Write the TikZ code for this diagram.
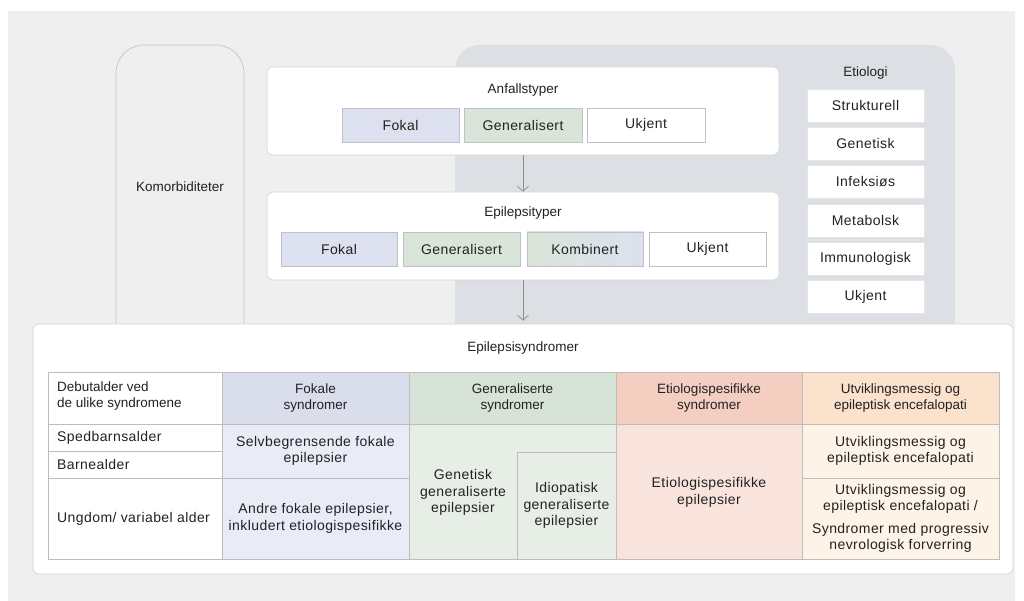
\documentclass[tikz,border=0pt]{standalone}
\usepackage{fontspec}
\setmainfont{Liberation Sans}
\newfontfamily\spfont[LetterSpace=3]{Liberation Sans}
\usetikzlibrary{fit,arrows.meta}
\definecolor{bg}{HTML}{EFEFEF}
\definecolor{etio}{HTML}{DCDFE3}
\definecolor{komline}{HTML}{C4C4C4}
\definecolor{panelline}{HTML}{D4D4D4}
\definecolor{boxline}{HTML}{BFC1C7}
\definecolor{gridline}{HTML}{BDBDBD}
\definecolor{ink}{HTML}{222222}
\definecolor{arrowc}{HTML}{8C8C8C}
\definecolor{fokal}{HTML}{DCE0EF}
\definecolor{gen}{HTML}{DAE5D9}
\definecolor{fokH}{HTML}{D9DDEC}
\definecolor{fokB}{HTML}{E9EBF6}
\definecolor{genH}{HTML}{D7E3D7}
\definecolor{genB}{HTML}{E6EEE6}
\definecolor{etH}{HTML}{F4CFC1}
\definecolor{etB}{HTML}{F8E4DD}
\definecolor{utH}{HTML}{FBE2CC}
\definecolor{utB}{HTML}{FDF3E7}
\newcommand\titlefont{\fontsize{13.5}{16}\selectfont}
\newcommand\spacedfont{\spfont\fontsize{14}{16.5}\selectfont}
\begin{document}
\begin{tikzpicture}[x=1pt,y=-1pt,
  title/.style={font=\titlefont, text=ink, align=center, inner sep=0},
  sptext/.style={font=\spacedfont, text=ink, align=center, inner sep=0},
  lefttext/.style={font=\spacedfont, text=ink, align=left, inner sep=0, anchor=west},
  panel/.style={draw=panelline, fill=white, rounded corners=6pt, inner sep=0, line width=0.6pt},
  tbox/.style={draw=boxline, line width=0.6pt, minimum height=34pt, inner sep=0, font=\spacedfont, text=ink},
  ebox/.style={draw=white!90!black, fill=white, line width=0.5pt, minimum width=117pt, minimum height=33pt, inner sep=0, font=\spacedfont, text=ink},
  cell/.style={draw=gridline, line width=0.8pt, inner sep=0},
  arr/.style={draw=arrowc, line width=0.7pt, -{Straight Barb[length=5pt,width=11pt]}}
]
\useasboundingbox (0,0) rectangle (1024,601);
\fill[white] (0,0) rectangle (1024,601);
\fill[bg] (8,11) rectangle (1015,601);

% Komorbiditeter column
\draw[komline, fill=bg, line width=0.7pt, rounded corners=28pt] (116,400) -- (116,45) -- (244,45) -- (244,400);
\node[title] (komo) at (180,187) {Komorbiditeter};

% Etiology background
\fill[etio, rounded corners=25pt] (455,400) -- (455,45) -- (955,45) -- (955,400) -- cycle;

% Anfallstyper panel
\node[panel, fit={(267,67) (779,155)}] (anf) {};
\node[title] (anfT) at (523,90) {Anfallstyper};
\node[tbox, fill=fokal, minimum width=117pt] (af1) at (400.5,125) {Fokal};
\node[tbox, fill=gen, minimum width=118pt] (af2) at (523,125) {Generalisert};
\node[tbox, fill=white, minimum width=118pt] (af3) at (646,125) {Ukjent};

% Epilepsityper panel
\node[panel, fit={(267,192) (779,280)}] (epi) {};
\node[title] (epiT) at (523,213) {Epilepsityper};
\node[tbox, fill=fokal, minimum width=116pt] (ep1) at (339,249) {Fokal};
\node[tbox, fill=gen, minimum width=117pt] (ep2) at (461.5,249) {Generalisert};
\node[tbox, left color=gen, right color=fokal, minimum width=116pt] (ep3) at (585,249) {Kombinert};
\node[tbox, fill=white, minimum width=117pt] (ep4) at (707.5,249) {Ukjent};

% Etiologi
\node[title] (etT) at (865.5,73) {Etiologi};
\node[ebox] (et1) at (865.5,105.5) {Strukturell};
\node[ebox] (et2) at (865.5,143.5) {Genetisk};
\node[ebox] (et3) at (865.5,182) {Infeksiøs};
\node[ebox] (et4) at (865.5,220.5) {Metabolsk};
\node[ebox] (et5) at (865.5,258.5) {Immunologisk};
\node[ebox] (et6) at (865.5,297) {Ukjent};

% Syndromes panel
\node[panel, fit={(33,324) (1013,574)}] (tab) {};
\node[title] (tabT) at (523,348) {Epilepsisyndromer};

% arrows
\draw[arr] (anf.south) -- (epi.north);
\draw[arr, shorten >=3pt] (epi.south) -- (tab.north);

% table: first column
\node[cell, fill=white, fit={(48,372) (222,424)}] (c00) {};
\node[cell, fill=white, fit={(48,424) (222,451)}] (c01) {};
\node[cell, fill=white, fit={(48,451) (222,478)}] (c02) {};
\node[cell, fill=white, fit={(48,478) (222,559)}] (c03) {};
\node[title, align=left, anchor=west] at (57,396) {Debutalder ved\\de ulike syndromene};
\node[lefttext] at (57,437.5) {Spedbarnsalder};
\node[lefttext] at (57,464.5) {Barnealder};
\node[lefttext] at (57,518.5) {Ungdom/ variabel alder};

% Fokale
\node[cell, fill=fokH, fit={(222,372) (409,424)}] (c10) {};
\node[cell, fill=fokB, fit={(222,424) (409,478)}] (c11) {};
\node[cell, fill=fokB, fit={(222,478) (409,559)}] (c12) {};
\node[title] at (c10) {Fokale\\syndromer};
\node[sptext] at (c11) {Selvbegrensende fokale\\epilepsier};
\node[sptext] at (c12) {Andre fokale epilepsier,\\inkludert etiologispesifikke};

% Generaliserte
\node[cell, fill=genH, fit={(409,372) (616,424)}] (c20) {};
\node[cell, fill=genB, fit={(409,424) (616,559)}] (c21) {};
\node[cell, fill=genB, fit={(517,452) (616,559)}] (c22) {};
\node[title] at (c20) {Generaliserte\\syndromer};
\node[sptext] at (463,492.5) {Genetisk\\generaliserte\\epilepsier};
\node[sptext] at (c22) {Idiopatisk\\generaliserte\\epilepsier};

% Etiologispesifikke
\node[cell, fill=etH, fit={(616,372) (802,424)}] (c30) {};
\node[cell, fill=etB, fit={(616,424) (802,559)}] (c31) {};
\node[title] at (c30) {Etiologispesifikke\\syndromer};
\node[sptext] at (709,492.5) {Etiologispesifikke\\epilepsier};

% Utviklingsmessig
\node[cell, fill=utH, fit={(802,372) (999,424)}] (c40) {};
\node[cell, fill=utB, fit={(802,424) (999,478)}] (c41) {};
\node[cell, fill=utB, fit={(802,478) (999,559)}] (c42) {};
\node[title] at (c40) {Utviklingsmessig og\\epileptisk encefalopati};
\node[sptext] at (c41) {Utviklingsmessig og\\epileptisk encefalopati};
\node[sptext] at (c42) {Utviklingsmessig og\\epileptisk encefalopati /\\[6pt]Syndromer med progressiv\\nevrologisk forverring};
\end{tikzpicture}
\end{document}
